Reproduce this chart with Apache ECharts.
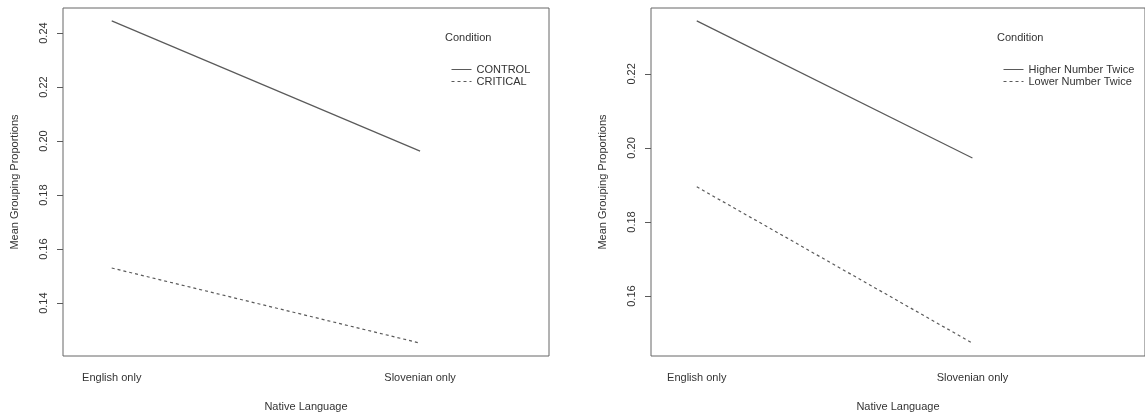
<!DOCTYPE html>
<html>
<head>
<meta charset="utf-8">
<script src="https://cdn.jsdelivr.net/npm/echarts@6/dist/echarts.min.js"></script>
<style>
  html, body { margin: 0; padding: 0; background: #fff; }
  #chart { width: 1145px; height: 417px; }
</style>
</head>
<body>
<div id="chart"></div>
<script>
// Native language levels (x positions 1 and 2)
const languages = ['English only', 'Slovenian only'];

// Left panel: control vs critical
const leftConditions = ['CONTROL', 'CRITICAL'];
const leftControl = [0.2445, 0.1963];
const leftCritical = [0.1530, 0.1252];
const leftTicks = [0.14, 0.16, 0.18, 0.20, 0.22, 0.24];

// Right panel: higher vs lower number twice
const rightConditions = ['Higher Number Twice', 'Lower Number Twice'];
const rightHigher = [0.2343, 0.1973];
const rightLower = [0.1895, 0.1473];
const rightTicks = [0.16, 0.18, 0.20, 0.22];

const FONT = '"Liberation Sans", Arial, sans-serif';
const TEXT = '#333';
const INK = '#5a5a5a';

// y range: data range padded 4% on each side
function padded(values) {
  const lo = Math.min(...values), hi = Math.max(...values);
  const d = (hi - lo) * 0.04;
  return [lo - d, hi + d];
}
const leftRange = padded(leftControl.concat(leftCritical));
const rightRange = padded(rightHigher.concat(rightLower));

function pts(vals) { return vals.map((v, i) => [i + 1, v]); }

function xAxis(gridIndex, min, max) {
  return {
    type: 'value', gridIndex, min, max,
    name: 'Native Language', nameLocation: 'middle', nameGap: 45,
    nameTextStyle: { fontFamily: FONT, fontSize: 11, color: TEXT },
    axisLine: { show: false }, axisTick: { show: false }, splitLine: { show: false },
    axisLabel: {
      customValues: [1, 2], margin: 16,
      fontFamily: FONT, fontSize: 11, color: TEXT,
      formatter: v => languages[Math.round(v) - 1] || ''
    }
  };
}

function yAxis(gridIndex, range, ticks) {
  return {
    type: 'value', gridIndex, min: range[0], max: range[1],
    name: 'Mean Grouping Proportions', nameLocation: 'middle', nameGap: 43,
    nameTextStyle: { fontFamily: FONT, fontSize: 11, color: TEXT },
    axisLine: { show: false }, splitLine: { show: false },
    axisTick: { show: true, inside: false, length: 6, customValues: ticks,
                lineStyle: { color: INK, width: 1 } },
    axisLabel: {
      customValues: ticks, rotate: 90, margin: 14,
      fontFamily: FONT, fontSize: 11, color: TEXT,
      formatter: v => v.toFixed(2)
    }
  };
}

function line(name, data, xi, dashed) {
  return {
    type: 'line', name, data, xAxisIndex: xi, yAxisIndex: xi,
    symbol: 'none', silent: true, color: INK,
    lineStyle: { color: INK, width: 1.2, type: dashed ? [3, 3] : 'solid' }
  };
}

// legend keys show only a thin line sample, no marker
const legendBase = {
  orient: 'vertical', itemWidth: 20, itemHeight: 10, itemGap: 1,
  itemStyle: { opacity: 0 },
  lineStyle: { width: 1 },
  textStyle: { fontFamily: FONT, fontSize: 11, color: TEXT }, selectedMode: false
};
const legendTitle = { fontFamily: FONT, fontSize: 11, fontWeight: 'normal', color: TEXT };

const chart = echarts.init(document.getElementById('chart'), null, { renderer: 'canvas' });
chart.setOption({
  animation: false,
  backgroundColor: '#fff',
  title: [
    { text: 'Condition', left: 445, top: 32, padding: 0, textStyle: legendTitle },
    { text: 'Condition', left: 997, top: 32, padding: 0, textStyle: legendTitle }
  ],
  legend: [
    Object.assign({ left: 446, top: 59, data: leftConditions }, legendBase),
    Object.assign({ left: 998, top: 59, data: rightConditions }, legendBase)
  ],
  grid: [
    { left: 63, top: 8, width: 486, height: 348, show: true, borderColor: '#666', borderWidth: 1 },
    { left: 651, top: 8, width: 495, height: 348, show: true, borderColor: '#666', borderWidth: 1 }
  ],
  xAxis: [xAxis(0, 0.842, 2.418), xAxis(1, 0.834, 2.626)],
  yAxis: [yAxis(0, leftRange, leftTicks), yAxis(1, rightRange, rightTicks)],
  series: [
    line('CONTROL', pts(leftControl), 0, false),
    line('CRITICAL', pts(leftCritical), 0, true),
    line('Higher Number Twice', pts(rightHigher), 1, false),
    line('Lower Number Twice', pts(rightLower), 1, true)
  ]
});
</script>
</body>
</html>
